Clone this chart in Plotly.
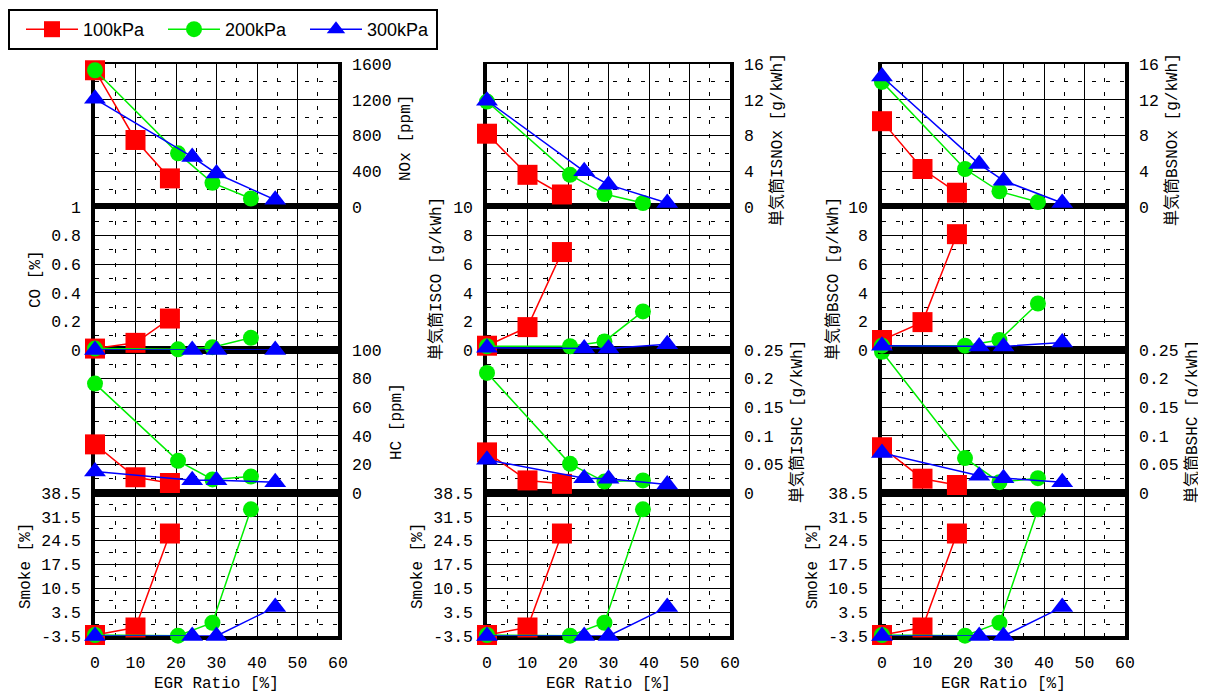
import plotly.graph_objects as go

# The page body adds an 8 px margin, so the figure is sized/offset to fill the 1206x696 view.
VIEW_W, VIEW_H = 1206, 696
OFF = 8
W, H = VIEW_W - OFF, VIEW_H - OFF

# ---------------- data ----------------
series_names = ["100kPa", "200kPa", "300kPa"]

egr_100 = [0, 10, 18.5]
egr_200 = [0, 20.5, 29, 38.5]
egr_300 = [0, 24, 30, 44.5]

# column 1 : concentrations
nox_100 = [1530, 750, 320]
nox_200 = [1530, 600, 270, 95]
nox_300 = [1210, 560, 375, 80]

co_100 = [0.01, 0.05, 0.22]
co_200 = [0.01, 0.005, 0.02, 0.085]
co_300 = [0.0, 0.0, 0.0, 0.0]

hc_100 = [34, 11, 7]
hc_200 = [76.5, 22.5, 9.5, 11.5]
hc_300 = [15, 9, 9, 7.5]

smoke_100 = [-3.2, -1.0, 26.6]
smoke_200 = [-3.2, -3.4, 0.4, 33.7]
smoke_300 = [-3.5, -3.5, -3.5, 5.0]

# column 2 : indicated specific
isnox_100 = [8.2, 3.6, 1.4]
isnox_200 = [11.8, 3.6, 1.45, 0.45]
isnox_300 = [11.9, 4.0, 2.5, 0.45]

isco_100 = [0.3, 1.6, 6.85]
isco_200 = [0.26, 0.26, 0.6, 2.7]
isco_300 = [0.15, 0.1, 0.1, 0.4]

ishc_100 = [0.071, 0.022, 0.016]
ishc_200 = [0.21, 0.051, 0.020, 0.022]
ishc_300 = [0.058, 0.026, 0.025, 0.015]

# column 3 : brake specific
bsnox_100 = [9.6, 4.25, 1.6]
bsnox_200 = [14.0, 4.25, 1.75, 0.55]
bsnox_300 = [14.6, 4.8, 2.95, 0.45]

bsco_100 = [0.7, 1.95, 8.1]
bsco_200 = [0.3, 0.3, 0.7, 3.25]
bsco_300 = [0.3, 0.25, 0.25, 0.52]

bshc_100 = [0.080, 0.025, 0.014]
bshc_200 = [0.247, 0.061, 0.019, 0.026]
bshc_300 = [0.070, 0.030, 0.026, 0.019]

smoke_tickvals = [-3.5, 3.5, 10.5, 17.5, 24.5, 31.5, 38.5]
smoke_ticktext = ["-3.5", "3.5", "10.5", "17.5", "24.5", "31.5", "38.5"]

x_title = "EGR Ratio [%]"
titles = {
    (0, "nox"): "NOx [ppm]", (0, "co"): "CO [%]", (0, "hc"): "HC [ppm]", (0, "smoke"): "Smoke [%]",
    (1, "nox"): "単気筒ISNOx [g/kWh]", (1, "co"): "単気筒ISCO [g/kWh]",
    (1, "hc"): "単気筒ISHC [g/kWh]", (1, "smoke"): "Smoke [%]",
    (2, "nox"): "単気筒BSNOx [g/kWh]", (2, "co"): "単気筒BSCO [g/kWh]",
    (2, "hc"): "単気筒BSHC [g/kWh]", (2, "smoke"): "Smoke [%]",
}

data = {
    (0, "nox"): (nox_100, nox_200, nox_300),
    (0, "co"): (co_100, co_200, co_300),
    (0, "hc"): (hc_100, hc_200, hc_300),
    (0, "smoke"): (smoke_100, smoke_200, smoke_300),
    (1, "nox"): (isnox_100, isnox_200, isnox_300),
    (1, "co"): (isco_100, isco_200, isco_300),
    (1, "hc"): (ishc_100, ishc_200, ishc_300),
    (1, "smoke"): (smoke_100, smoke_200, smoke_300),
    (2, "nox"): (bsnox_100, bsnox_200, bsnox_300),
    (2, "co"): (bsco_100, bsco_200, bsco_300),
    (2, "hc"): (bshc_100, bshc_200, bshc_300),
    (2, "smoke"): (smoke_100, smoke_200, smoke_300),
}

# ---------------- styling / geometry (page pixels) ----------------
egr = [egr_100, egr_200, egr_300]
colors = ["#ff0000", "#00ee00", "#0000ff"]
symbols = ["square", "circle", "triangle-up"]
msizes = [20, 16, 19]

col_px = [(95, 338), (487, 730), (882, 1125)]
row_px = {"nox": (64, 207), "co": (207, 350), "hc": (350, 493), "smoke": (493, 636)}
row_order = ["smoke", "hc", "co", "nox"]  # drawing order (bottom first)


def px_x(p):
    return (p - OFF) / W


def px_y(p):
    return 1 - (p - OFF) / H


yspec = {
    0: {"nox": dict(range=[0, 1600], dtick=400, minor=200, side="right"),
        "co": dict(range=[0, 1], dtick=0.2, minor=0.1, side="left"),
        "hc": dict(range=[0, 100], dtick=20, minor=10, side="right")},
    1: {"nox": dict(range=[0, 16], dtick=4, minor=2, side="right"),
        "co": dict(range=[0, 10], dtick=2, minor=1, side="left"),
        "hc": dict(range=[0, 0.25], dtick=0.05, minor=0.025, side="right")},
    2: {"nox": dict(range=[0, 16], dtick=4, minor=2, side="right"),
        "co": dict(range=[0, 10], dtick=2, minor=1, side="left"),
        "hc": dict(range=[0, 0.25], dtick=0.05, minor=0.025, side="right")},
}

title_pos = {
    (0, "nox"): (406, 138), (0, "co"): (36, 279), (0, "hc"): (397, 422), (0, "smoke"): (26, 566),
    (1, "nox"): (777, 140), (1, "co"): (437, 279), (1, "hc"): (797, 422), (1, "smoke"): (418, 566),
    (2, "nox"): (1172, 140), (2, "co"): (834, 279), (2, "hc"): (1192, 422), (2, "smoke"): (813, 566),
}

tick_font = dict(family="Liberation Mono, DejaVu Sans Mono, monospace", size=16.5, color="black")
title_font = dict(family="Liberation Mono, Noto Sans CJK JP, monospace", size=16, color="black")
grid_common = dict(showgrid=True, gridcolor="black", gridwidth=1.3, zeroline=False,
                   showline=True, mirror=True, linecolor="black", ticks="",
                   layer="below traces", fixedrange=True, automargin=False)

fig = go.Figure()
layout = {}
annotations = []

n = 0
for row in row_order:
    for c in range(3):
        n += 1
        xa = "x" if n == 1 else f"x{n}"
        ya = "y" if n == 1 else f"y{n}"
        xkey = "xaxis" if n == 1 else f"xaxis{n}"
        ykey = "yaxis" if n == 1 else f"yaxis{n}"
        x0, x1 = col_px[c]
        y0, y1 = row_px[row]

        layout[xkey] = dict(
            domain=[px_x(x0), px_x(x1)], anchor=ya, range=[0, 60], tick0=0, dtick=10,
            minor=dict(dtick=5, showgrid=True, gridcolor="black", gridwidth=1, griddash="4px,10px"),
            showticklabels=(row == "smoke"), tickfont=tick_font, ticklabelstandoff=8,
            linewidth=(2 if row == "nox" else 3.5), **grid_common)

        if row == "smoke":
            yd = dict(range=[-3.5, 38.5], tickmode="array", tickvals=smoke_tickvals,
                      ticktext=smoke_ticktext, side="left",
                      minor=dict(dtick=3.5, tick0=-3.5, showgrid=True, gridcolor="black",
                                 gridwidth=1, griddash="4px,10px"))
        else:
            s = yspec[c][row]
            yd = dict(range=s["range"], tick0=0, dtick=s["dtick"], side=s["side"],
                      minor=dict(dtick=s["minor"], tick0=0, showgrid=True, gridcolor="black",
                                 gridwidth=1, griddash="4px,10px"))
        layout[ykey] = dict(domain=[px_y(y1), px_y(y0)], anchor=xa, tickfont=tick_font,
                            ticklabelstandoff=7, linewidth=3.5, **yd, **grid_common)

        ys = data[(c, row)]
        for k in range(3):
            fig.add_trace(go.Scatter(
                x=egr[k], y=ys[k], xaxis=xa, yaxis=ya, name=series_names[k],
                mode="lines+markers", cliponaxis=False,
                showlegend=(n == 1),
                line=dict(color=colors[k], width=1.5),
                marker=dict(symbol=symbols[k], size=msizes[k], color=colors[k], line=dict(width=0)),
            ))

        tx, ty = title_pos[(c, row)]
        annotations.append(dict(text=titles[(c, row)], x=px_x(tx), y=px_y(ty), xref="paper",
                                yref="paper", xanchor="center", yanchor="middle",
                                textangle=-90, showarrow=False, font=title_font))

for c in range(3):
    x0, x1 = col_px[c]
    annotations.append(dict(text=x_title, x=px_x((x0 + x1) / 2), y=px_y(684), xref="paper",
                            yref="paper", xanchor="center", yanchor="middle", showarrow=False,
                            font=title_font))

fig.update_layout(
    width=W, height=H, autosize=False,
    margin=dict(l=0, r=0, t=0, b=0, pad=0, autoexpand=False),
    paper_bgcolor="white", plot_bgcolor="white",
    annotations=annotations,
    showlegend=True,
    legend=dict(orientation="h", x=px_x(8), y=px_y(9), xanchor="left", yanchor="top",
                bordercolor="black", borderwidth=2, bgcolor="white",
                font=dict(family="Liberation Sans, Arial, sans-serif", size=18, color="black"),
                entrywidth=64, entrywidthmode="pixels", itemsizing="trace",
                itemwidth=52, indentation=11),
    **layout,
)

fig.write_html("out.html")
